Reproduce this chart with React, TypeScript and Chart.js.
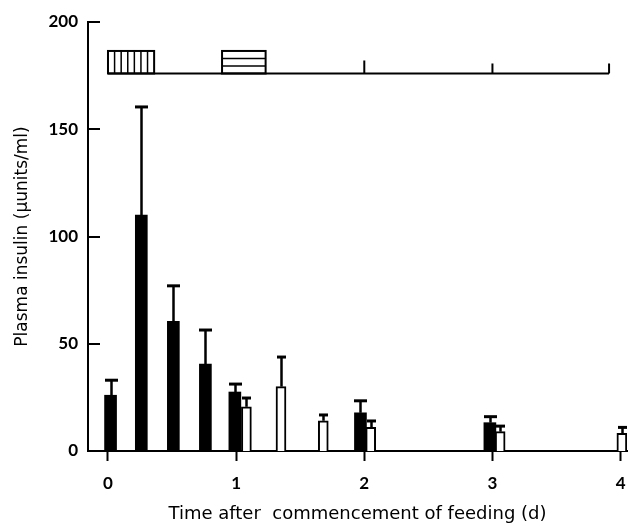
import { useEffect, useRef } from 'react';
import { Chart, registerables } from 'chart.js';

Chart.register(...registerables);

// Fed (black) bars: time (d), mean insulin, top of error bar
const fedTimes = [0.02, 0.26, 0.51, 0.76, 0.99, 1.97, 2.98];
const fedInsulin = [26, 110, 60.5, 40.5, 27.5, 17.8, 13.2];
const fedErrorTop = [33, 160.4, 77, 56.4, 31.2, 23.4, 16];

// Open (white) bars
const openTimes = [1.08, 1.35, 1.68, 2.05, 3.06, 4.01];
const openInsulin = [20.6, 30, 14.1, 11, 9, 8.2];
const openErrorTop = [24.7, 43.8, 16.8, 14, 11.6, 11];

const xTickValues = [0, 1, 2, 3, 4];
const yTickValues = [0, 50, 100, 150, 200];
const xTitle = 'Time after  commencement of feeding (d)';
const yTitle = 'Plasma insulin (\u03bcunits/ml)';

// Top inset: time line with marks and two feeding periods
const insetLine = [0, 3.91];
const insetLevel = 176;
const insetMarks = [2, 3, 3.91];
const feedingPeriodA = [0.0, 0.36];
const feedingPeriodB = [0.89, 1.23];
const periodTop = 186.5;

const overlay = {
  id: 'overlay',
  afterDatasetsDraw(chart: any) {
    const { ctx, chartArea } = chart;
    const x = chart.scales.x;
    const y = chart.scales.y;
    ctx.save();
    ctx.strokeStyle = '#000';
    ctx.lineCap = 'butt';

    // error bars
    const sets: [number[], number][] = [
      [fedErrorTop, 13],
      [openErrorTop, 9],
    ];
    sets.forEach(([tops, cap], di) => {
      const meta = chart.getDatasetMeta(di);
      meta.data.forEach((el: any, j: number) => {
        const px = Math.round(el.x) + 0.5;
        const yb = el.y;
        const yt = y.getPixelForValue(tops[j]);
        ctx.lineWidth = 2.5;
        ctx.beginPath();
        ctx.moveTo(px, yb);
        ctx.lineTo(px, yt);
        ctx.stroke();
        ctx.lineWidth = 3;
        ctx.beginPath();
        ctx.moveTo(px - cap / 2, yt);
        ctx.lineTo(px + cap / 2, yt);
        ctx.stroke();
      });
    });

    // inward y ticks
    ctx.lineWidth = 2;
    yTickValues.forEach((v) => {
      const py = Math.round(y.getPixelForValue(v));
      ctx.beginPath();
      ctx.moveTo(chartArea.left, py);
      ctx.lineTo(chartArea.left + 12, py);
      ctx.stroke();
    });

    // inset time line
    const ly = y.getPixelForValue(insetLevel);
    ctx.lineWidth = 2;
    ctx.beginPath();
    ctx.moveTo(x.getPixelForValue(insetLine[0]), ly);
    ctx.lineTo(x.getPixelForValue(insetLine[1]), ly);
    ctx.stroke();
    insetMarks.forEach((m, i) => {
      const px = x.getPixelForValue(m);
      ctx.beginPath();
      ctx.moveTo(px, ly);
      ctx.lineTo(px, ly - (i === 0 ? 13 : 10));
      ctx.stroke();
    });

    const topY = y.getPixelForValue(periodTop);
    // period A: vertical stripes
    {
      const x0 = x.getPixelForValue(feedingPeriodA[0]);
      const x1 = x.getPixelForValue(feedingPeriodA[1]);
      ctx.lineWidth = 2;
      ctx.strokeRect(x0, topY, x1 - x0, ly - topY);
      ctx.lineWidth = 1.5;
      const n = 7;
      for (let k = 1; k < n; k++) {
        const px = x0 + ((x1 - x0) * k) / n;
        ctx.beginPath();
        ctx.moveTo(px, topY);
        ctx.lineTo(px, ly);
        ctx.stroke();
      }
    }
    // period B: horizontal stripes
    {
      const x0 = x.getPixelForValue(feedingPeriodB[0]);
      const x1 = x.getPixelForValue(feedingPeriodB[1]);
      ctx.lineWidth = 2;
      ctx.strokeRect(x0, topY, x1 - x0, ly - topY);
      ctx.lineWidth = 1.5;
      const n = 3;
      for (let k = 1; k < n; k++) {
        const py = topY + ((ly - topY) * k) / n;
        ctx.beginPath();
        ctx.moveTo(x0, py);
        ctx.lineTo(x1, py);
        ctx.stroke();
      }
    }
    ctx.restore();
  },
};

export default function App() {
  const ref = useRef<HTMLCanvasElement | null>(null);
  useEffect(() => {
    if (!ref.current) return;
    const chart = new Chart(ref.current, {
      type: 'bar',
      data: {
        datasets: [
          {
            label: 'fed',
            data: fedTimes.map((t, i) => ({ x: t, y: fedInsulin[i] })),
            backgroundColor: '#000',
            borderColor: '#000',
            borderWidth: 0,
            barThickness: 12,
            grouped: false,
          } as any,
          {
            label: 'open',
            data: openTimes.map((t, i) => ({ x: t, y: openInsulin[i] })),
            backgroundColor: '#fff',
            borderColor: '#000',
            borderWidth: 2,
            barThickness: 10,
            grouped: false,
          } as any,
        ],
      },
      options: {
        responsive: false,
        animation: false,
        layout: { padding: { top: 22, right: 2, left: 0, bottom: 0 } },
        plugins: {
          legend: { display: false },
          tooltip: { enabled: false },
        },
        scales: {
          x: {
            type: 'linear',
            min: -0.156,
            max: 4.05,
            offset: false,
            afterBuildTicks: (s: any) => {
              s.ticks = xTickValues.map((v) => ({ value: v }));
            },
            afterFit: (s: any) => {
              s.height = 75;
              s.paddingLeft = 0;
              s.paddingRight = 0;
            },
            grid: {
              display: true,
              offset: false,
              drawOnChartArea: false,
              drawTicks: true,
              tickLength: 10,
              tickWidth: 2,
              color: '#000',
            },
            border: { display: true, color: '#000', width: 2 },
            ticks: {
              color: '#000',
              padding: 12,
              maxRotation: 0,
              font: { family: 'Lato', size: 17, weight: 'bold' },
            },
            title: {
              display: true,
              text: xTitle,
              color: '#000',
              padding: { top: 0, bottom: 1 },
              font: { family: 'DejaVu Sans', size: 18 },
            },
          },
          y: {
            type: 'linear',
            min: 0,
            max: 200,
            afterBuildTicks: (s: any) => {
              s.ticks = yTickValues.map((v) => ({ value: v }));
            },
            afterFit: (s: any) => {
              s.width = 88;
              s.paddingTop = 0;
              s.paddingBottom = 0;
            },
            grid: { display: false, drawTicks: false },
            border: { display: true, color: '#000', width: 2 },
            ticks: {
              color: '#000',
              padding: 10,
              font: { family: 'Lato', size: 17, weight: 'bold' },
            },
            title: {
              display: true,
              text: yTitle,
              color: '#000',
              padding: { top: 12, bottom: 0 },
              font: { family: 'DejaVu Sans', size: 17 },
            },
          },
        },
      },
      plugins: [overlay],
    });
    return () => chart.destroy();
  }, []);
  return (
    <div style={{ position: 'fixed', left: 0, top: 0, width: 629, height: 526, background: '#fff' }}>
      <canvas ref={ref} width={629} height={526} style={{ display: 'block' }} />
    </div>
  );
}
